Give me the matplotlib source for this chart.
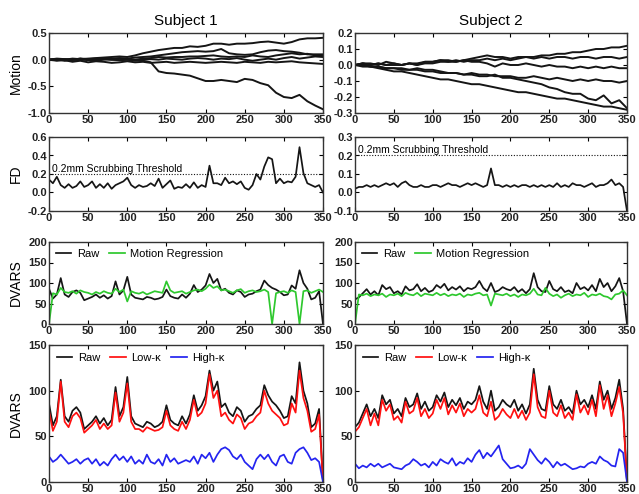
import numpy as np
import matplotlib
matplotlib.use("Agg")
import matplotlib.pyplot as plt
from matplotlib.ticker import FormatStrFormatter, MultipleLocator

plt.rcParams['font.family'] = ['Liberation Sans', 'DejaVu Sans']
plt.rcParams['axes.unicode_minus'] = False

# ---- frame grids ----
frames5 = np.arange(0, 351, 5)     # DVARS / FD samples
frames10 = np.arange(0, 351, 10)   # motion parameter samples
x_ticks = [0, 50, 100, 150, 200, 250, 300, 350]

# ---- Subject 1: motion parameters (6 traces) ----
s1_motion_1 = [0, 0.01, 0.0, 0.02, 0.01, 0.02, 0.03, 0.04, 0.05, 0.06, 0.05, 0.08, 0.12, 0.15, 0.18, 0.2,
               0.22, 0.22, 0.25, 0.24, 0.26, 0.3, 0.3, 0.28, 0.3, 0.3, 0.31, 0.33, 0.34, 0.32, 0.3, 0.33,
               0.38, 0.4, 0.4, 0.41]
s1_motion_2 = [0, 0.02, 0.01, 0.0, 0.02, 0.01, 0.02, 0.03, 0.02, 0.03, 0.02, 0.04, 0.05, 0.06, 0.08, 0.1,
               0.12, 0.14, 0.15, 0.16, 0.15, 0.16, 0.2, 0.12, 0.1, 0.09, 0.1, 0.14, 0.17, 0.18, 0.16, 0.15,
               0.13, 0.1, 0.1, 0.1]
s1_motion_3 = [0, -0.01, 0.01, 0.0, 0.02, 0.0, 0.01, 0.02, 0.0, 0.02, 0.01, 0.0, 0.02, 0.03, 0.05, 0.04,
               0.05, 0.05, 0.06, 0.06, 0.07, 0.08, 0.06, 0.05, 0.06, 0.05, 0.08, 0.06, 0.05, 0.08, 0.1, 0.12,
               0.1, 0.11, 0.08, 0.07]
s1_motion_4 = [0, 0.01, -0.02, 0.0, -0.01, 0.01, -0.02, 0.0, 0.01, -0.01, 0.0, -0.02, 0.0, 0.01, 0.0, 0.02,
               0.01, 0.0, 0.02, 0.03, 0.02, 0.0, 0.02, 0.01, 0.03, 0.0, -0.02, 0.0, 0.02, 0.0, 0.03, 0.05,
               0.02, 0.04, 0.06, 0.05]
s1_motion_5 = [0, -0.02, -0.01, -0.04, -0.02, -0.05, -0.03, -0.04, -0.06, -0.05, -0.03, -0.05, -0.04, -0.06,
               -0.05, -0.04, -0.06, -0.05, -0.04, -0.05, -0.06, -0.05, -0.04, -0.05, -0.06, -0.04, -0.05,
               -0.06, -0.04, -0.05, -0.04, -0.03, -0.05, -0.06, -0.07, -0.08]
s1_motion_6 = [0, 0.01, -0.01, 0.0, 0.01, -0.01, 0.0, 0.01, 0.0, -0.01, 0.0, -0.01, -0.02, -0.05, -0.22,
               -0.25, -0.26, -0.28, -0.3, -0.35, -0.4, -0.4, -0.38, -0.4, -0.42, -0.36, -0.38, -0.44, -0.48,
               -0.62, -0.7, -0.72, -0.66, -0.78, -0.86, -0.93]

# ---- Subject 2: motion parameters (6 traces) ----
s2_motion_1 = [0, 0.01, 0.0, 0.01, 0.0, 0.01, 0.0, 0.01, 0.0, 0.01, 0.01, 0.02, 0.02, 0.03, 0.02, 0.03,
               0.03, 0.04, 0.03, 0.04, 0.03, 0.04, 0.05, 0.05, 0.06, 0.06, 0.07, 0.07, 0.08, 0.08, 0.09, 0.1,
               0.1, 0.11, 0.11, 0.12]
s2_motion_2 = [0, 0.01, 0.01, 0.0, 0.02, 0.01, 0.0, 0.01, 0.01, 0.02, 0.02, 0.03, 0.03, 0.02, 0.03, 0.04,
               0.05, 0.06, 0.05, 0.05, 0.04, 0.05, 0.05, 0.04, 0.05, 0.04, 0.05, 0.05, 0.04, 0.05, 0.05, 0.04,
               0.05, 0.05, 0.04, 0.05]
s2_motion_3 = [0, 0.01, 0.0, 0.01, 0.0, 0.0, 0.0, 0.01, 0.0, 0.02, 0.02, 0.03, 0.02, 0.02, 0.03, 0.02,
               0.02, 0.01, -0.01, 0.01, 0.0, 0.0, 0.01, 0.0, -0.01, 0.0, -0.01, -0.01, -0.02, -0.01, -0.02,
               -0.01, -0.02, -0.01, -0.02, -0.02]
s2_motion_4 = [0, 0.0, -0.01, -0.01, -0.02, -0.02, -0.03, -0.03, -0.02, -0.03, -0.03, -0.04, -0.05, -0.05,
               -0.06, -0.05, -0.06, -0.06, -0.07, -0.07, -0.07, -0.08, -0.08, -0.07, -0.08, -0.09, -0.08,
               -0.09, -0.1, -0.09, -0.1, -0.09, -0.1, -0.1, -0.11, -0.1]
s2_motion_5 = [0, 0.0, -0.01, -0.01, -0.02, -0.02, -0.02, -0.03, -0.03, -0.04, -0.04, -0.05, -0.05, -0.05,
               -0.06, -0.06, -0.07, -0.07, -0.06, -0.08, -0.08, -0.09, -0.1, -0.11, -0.12, -0.14, -0.15,
               -0.17, -0.18, -0.18, -0.21, -0.22, -0.19, -0.24, -0.22, -0.27]
s2_motion_6 = [0, -0.01, -0.01, -0.02, -0.03, -0.04, -0.04, -0.05, -0.06, -0.07, -0.08, -0.09, -0.09, -0.1,
               -0.11, -0.12, -0.12, -0.13, -0.14, -0.15, -0.16, -0.17, -0.17, -0.18, -0.19, -0.2, -0.21,
               -0.21, -0.22, -0.23, -0.24, -0.25, -0.26, -0.26, -0.27, -0.28]

# ---- framewise displacement ----
s1_fd = [0.14, 0.10, 0.17, 0.08, 0.05, 0.09, 0.05, 0.07, 0.12, 0.06,
         0.08, 0.12, 0.05, 0.09, 0.05, 0.10, 0.04, 0.08, 0.10, 0.12,
         0.16, 0.08, 0.05, 0.08, 0.06, 0.07, 0.10, 0.07, 0.15, 0.05,
         0.09, 0.13, 0.04, 0.06, 0.05, 0.09, 0.05, 0.11, 0.05, 0.08,
         0.06, 0.29, 0.10, 0.10, 0.08, 0.16, 0.10, 0.12, 0.09, 0.12,
         0.05, 0.03, 0.08, 0.20, 0.14, 0.28, 0.38, 0.36, 0.10, 0.15,
         0.10, 0.12, 0.11, 0.17, 0.49, 0.21, 0.10, 0.08, 0.06, 0.08,
         0.00]
s2_fd = [0.02, 0.03, 0.03, 0.04, 0.03, 0.04, 0.03, 0.04, 0.05, 0.04,
         0.05, 0.03, 0.05, 0.06, 0.04, 0.03, 0.03, 0.04, 0.03, 0.03,
         0.04, 0.04, 0.03, 0.04, 0.05, 0.04, 0.04, 0.03, 0.04, 0.05,
         0.04, 0.05, 0.04, 0.03, 0.04, 0.13, 0.04, 0.04, 0.03, 0.04,
         0.03, 0.04, 0.03, 0.04, 0.04, 0.03, 0.04, 0.03, 0.04, 0.03,
         0.04, 0.03, 0.05, 0.03, 0.04, 0.03, 0.05, 0.04, 0.04, 0.03,
         0.04, 0.05, 0.03, 0.04, 0.04, 0.05, 0.07, 0.04, 0.05, 0.03,
         -0.10]
fd_threshold = 0.2

# ---- DVARS ----
s1_raw = [86, 62, 72, 112, 72, 66, 78, 82, 76, 58,
          62, 66, 72, 64, 70, 62, 68, 104, 72, 82,
          115, 72, 64, 62, 60, 66, 64, 60, 62, 66,
          84, 68, 64, 62, 72, 64, 74, 95, 78, 84,
          94, 122, 100, 110, 82, 86, 76, 72, 82, 78,
          66, 72, 74, 80, 84, 106, 95, 88, 84, 78,
          70, 72, 94, 86, 131, 100, 86, 60, 64, 80,
          0]
s1_motion_reg = [0, 75, 72, 88, 78, 76, 80, 74, 82, 78,
                 76, 72, 78, 74, 80, 76, 74, 86, 78, 84,
                 55, 80, 76, 74, 78, 72, 76, 80, 78, 76,
                 104, 82, 76, 78, 80, 74, 78, 82, 84, 80,
                 86, 96, 88, 92, 82, 84, 80, 76, 82, 85,
                 76, 80, 82, 78, 80, 84, 78, 0, 75, 78,
                 80, 76, 82, 78, 0, 80, 82, 76, 80, 84,
                 78]
s1_low_kappa = [78, 56, 66, 110, 66, 60, 72, 76, 70, 54,
                58, 62, 68, 58, 64, 58, 62, 98, 66, 76,
                108, 66, 58, 58, 55, 60, 58, 56, 57, 60,
                78, 62, 58, 56, 66, 58, 68, 90, 72, 76,
                86, 118, 92, 100, 72, 76, 68, 64, 74, 70,
                58, 64, 66, 72, 76, 100, 86, 78, 74, 70,
                62, 64, 86, 76, 122, 92, 78, 55, 58, 74,
                0]
s1_high_kappa = [28, 22, 25, 30, 25, 20, 22, 25, 20, 24,
                 26, 20, 25, 18, 22, 18, 25, 30, 24, 28,
                 22, 28, 20, 24, 20, 30, 22, 20, 25, 18,
                 30, 22, 26, 20, 22, 24, 22, 28, 20, 30,
                 26, 32, 22, 30, 36, 38, 35, 28, 25, 30,
                 22, 18, 14, 25, 30, 25, 30, 22, 18, 28,
                 30, 22, 20, 32, 36, 38, 32, 24, 26, 22,
                 0]

s2_raw = [60, 65, 75, 85, 72, 80, 70, 95, 85, 90,
          75, 80, 72, 92, 82, 85, 97, 80, 88, 78,
          82, 95, 88, 98, 82, 90, 84, 92, 80, 88,
          85, 90, 105, 88, 80, 100, 78, 82, 90, 85,
          82, 90, 78, 85, 75, 85, 124, 90, 80, 78,
          105, 85, 80, 90, 78, 82, 75, 100, 85, 90,
          82, 95, 80, 110, 90, 100, 80, 92, 112, 80,
          0]
s2_motion_reg = [0, 72, 70, 74, 68, 72, 70, 74, 66, 72,
                 70, 74, 68, 76, 72, 70, 76, 68, 74, 72,
                 70, 76, 70, 74, 68, 72, 70, 74, 66, 72,
                 70, 74, 76, 70, 72, 45, 74, 72, 70, 74,
                 68, 72, 66, 72, 70, 74, 86, 72, 70, 88,
                 74, 68, 72, 64, 70, 74, 68, 72, 70, 76,
                 66, 72, 70, 74, 68, 66, 60, 72, 74, 82,
                 70]
s2_low_kappa = [55, 60, 70, 80, 62, 75, 62, 90, 78, 85,
                68, 72, 65, 88, 75, 78, 92, 72, 80, 70,
                75, 90, 80, 92, 74, 84, 76, 86, 72, 80,
                76, 80, 95, 76, 72, 88, 68, 72, 80, 74,
                70, 80, 70, 78, 68, 76, 118, 82, 72, 70,
                100, 76, 72, 84, 70, 76, 68, 96, 76, 84,
                74, 90, 72, 106, 80, 95, 72, 86, 104, 75,
                0]
s2_high_kappa = [20, 15, 18, 16, 20, 17, 20, 16, 18, 20,
                 16, 15, 14, 18, 20, 25, 22, 18, 20, 16,
                 22, 18, 25, 22, 20, 26, 18, 22, 20, 26,
                 22, 30, 35, 26, 32, 28, 34, 40, 25, 20,
                 15, 16, 18, 15, 20, 36, 30, 24, 20, 26,
                 22, 16, 22, 18, 20, 17, 14, 15, 17, 16,
                 20, 22, 20, 28, 24, 22, 18, 17, 36, 32,
                 0]

BLACK = '#151515'
GREEN = '#2ec82e'
RED = '#ff1010'
BLUE = '#2424f0'
LW = 1.25

fig = plt.figure(figsize=(6.39, 4.94), dpi=100)

col_x = [49 / 639, 355 / 639]
col_w = [274 / 639, 272 / 639]
rows_px = [(33, 113), (137, 211), (242, 324), (345, 482)]


def make_axes(r, c):
    top, bot = rows_px[r]
    ax = fig.add_axes([col_x[c], 1 - bot / 494, col_w[c], (bot - top) / 494])
    ax.set_xlim(0, 350)
    ax.set_xticks(x_ticks)
    ax.tick_params(direction='in', length=3, width=0.8, top=True, right=True,
                   labelsize=8, pad=1.5, colors='black')
    for lbl in ax.get_xticklabels() + ax.get_yticklabels():
        lbl.set_fontweight('bold')
    for s in ax.spines.values():
        s.set_linewidth(1.0)
        s.set_color('#333333')
    return ax


def style_ylabel(ax, text):
    ax.set_ylabel(text, fontsize=10)
    ax.yaxis.set_label_coords(-0.095, 0.5)


def bold_ticks(ax):
    for lbl in ax.get_xticklabels() + ax.get_yticklabels():
        lbl.set_fontweight('bold')
        lbl.set_color('#222222')


# Row 1: motion
motion_sets = [
    [s1_motion_1, s1_motion_2, s1_motion_3, s1_motion_4, s1_motion_5, s1_motion_6],
    [s2_motion_1, s2_motion_2, s2_motion_3, s2_motion_4, s2_motion_5, s2_motion_6],
]
motion_lims = [(-1.0, 0.5, 0.5), (-0.3, 0.2, 0.1)]
for c in range(2):
    ax = make_axes(0, c)
    for tr in motion_sets[c]:
        ax.plot(frames10, tr, color=BLACK, lw=1.4)
    lo, hi, step = motion_lims[c]
    ax.set_ylim(lo, hi)
    ax.yaxis.set_major_locator(MultipleLocator(step))
    ax.yaxis.set_major_formatter(FormatStrFormatter('%.1f'))
    ax.set_title('Subject %d' % (c + 1), fontsize=11, pad=6)
    if c == 0:
        style_ylabel(ax, 'Motion')
    bold_ticks(ax)

# Row 2: FD
fd_sets = [s1_fd, s2_fd]
fd_lims = [(-0.2, 0.6, 0.2), (-0.1, 0.3, 0.1)]
for c in range(2):
    ax = make_axes(1, c)
    ax.plot(frames5, fd_sets[c], color=BLACK, lw=LW)
    ax.axhline(fd_threshold, color=BLACK, lw=0.8, ls=(0, (1, 1.5)))
    ax.text(4, fd_threshold + 0.005, '0.2mm Scrubbing Threshold', fontsize=7.5,
            va='bottom', ha='left')
    lo, hi, step = fd_lims[c]
    ax.set_ylim(lo, hi)
    ax.yaxis.set_major_locator(MultipleLocator(step))
    ax.yaxis.set_major_formatter(FormatStrFormatter('%.1f'))
    if c == 0:
        style_ylabel(ax, 'FD')
    bold_ticks(ax)

# Row 3: DVARS raw vs motion regression
raw_sets = [s1_raw, s2_raw]
mr_sets = [s1_motion_reg, s2_motion_reg]
for c in range(2):
    ax = make_axes(2, c)
    ax.plot(frames5, raw_sets[c], color=BLACK, lw=LW, label='Raw')
    ax.plot(frames5, mr_sets[c], color=GREEN, lw=LW, label='Motion Regression')
    ax.set_ylim(0, 200)
    ax.set_yticks([0, 50, 100, 150, 200])
    ax.legend(loc='upper left', ncol=2, frameon=False, fontsize=8,
              handlelength=1.4, handletextpad=0.5, columnspacing=0.9,
              borderaxespad=0.4, borderpad=0.2)
    if c == 0:
        style_ylabel(ax, 'DVARS')
    bold_ticks(ax)

# Row 4: DVARS raw vs ME-ICA components
low_sets = [s1_low_kappa, s2_low_kappa]
high_sets = [s1_high_kappa, s2_high_kappa]
for c in range(2):
    ax = make_axes(3, c)
    ax.plot(frames5, raw_sets[c], color=BLACK, lw=LW, label='Raw')
    ax.plot(frames5, low_sets[c], color=RED, lw=LW, label='Low-\u03ba')
    ax.plot(frames5, high_sets[c], color=BLUE, lw=LW, label='High-\u03ba')
    ax.set_ylim(0, 150)
    ax.set_yticks([0, 50, 100, 150])
    ax.legend(loc='upper left', ncol=3, frameon=False, fontsize=8,
              handlelength=1.4, handletextpad=0.5, columnspacing=0.9,
              borderaxespad=0.5, borderpad=0.2)
    if c == 0:
        style_ylabel(ax, 'DVARS')
    bold_ticks(ax)

fig.savefig('out.png', dpi=100)
